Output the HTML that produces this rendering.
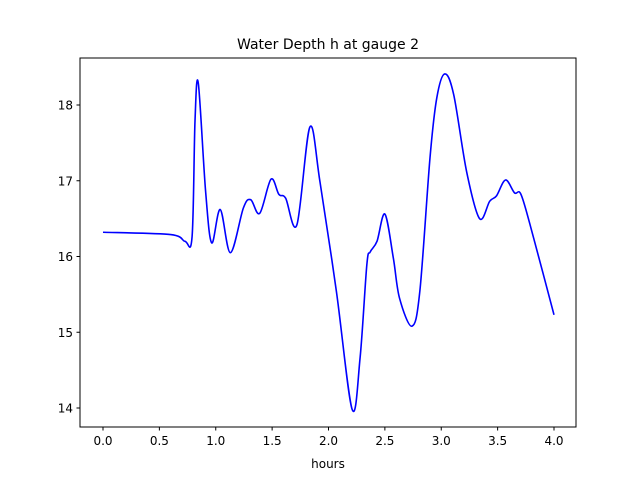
<!DOCTYPE html>
<html><head><meta charset="utf-8"><style>
body{margin:0;background:#fff}
svg{display:block;font-family:"DejaVu Sans","Liberation Sans",sans-serif}
</style></head><body>
<svg id="chart" width="640" height="480">
<rect width="640" height="480" fill="#fff"/>
<text x="328" y="49" text-anchor="middle" font-size="14">Water Depth h at gauge 2</text>
<g id="plot"></g>
<rect x="80" y="58" width="496" height="369" fill="none" stroke="#000" stroke-width="1"/>
<text x="328" y="468" text-anchor="middle" font-size="12">hours</text>
</svg>
<script>
const hours=[0,0.6,0.727,0.79,0.816,0.845,0.91,0.964,1.04,1.13,1.245,1.31,1.39,1.49,1.56,1.62,1.72,1.835,1.925,2.07,2.21,2.28,2.34,2.37,2.43,2.50,2.575,2.63,2.74,2.81,2.90,2.96,3.03,3.11,3.225,3.34,3.43,3.49,3.57,3.65,3.71,3.82,4.0];
const depth=[16.32,16.29,16.20,16.26,17.79,18.29,16.86,16.18,16.62,16.05,16.64,16.75,16.57,17.02,16.82,16.77,16.42,17.71,16.98,15.54,13.98,14.66,15.89,16.06,16.20,16.56,15.98,15.45,15.08,15.54,17.30,18.09,18.41,18.14,17.12,16.50,16.73,16.80,17.01,16.84,16.81,16.24,15.23];
const xTicks=[0,0.5,1,1.5,2,2.5,3,3.5,4];
const xTickLabels=["0.0","0.5","1.0","1.5","2.0","2.5","3.0","3.5","4.0"];
const yTicks=[14,15,16,17,18];
const yTickLabels=["14","15","16","17","18"];
const X=v=>103+v*112.75, Y=v=>105+(18-v)*75.75;
const ns="http://www.w3.org/2000/svg", g=document.getElementById('plot');
function mk(t,a){const e=document.createElementNS(ns,t);for(const k in a)e.setAttribute(k,a[k]);g.appendChild(e);return e;}
xTicks.forEach((v,i)=>{
 const t=mk('line',{x1:X(v),x2:X(v),y1:427,y2:430.5,stroke:'#000'});
 
 
 const l=mk('text',{x:X(v),y:445,'text-anchor':'middle','font-size':12});l.textContent=xTickLabels[i];
 
 
});
yTicks.forEach((v,i)=>{
 const t=mk('line',{x1:76.5,x2:80,y1:Y(v),y2:Y(v),stroke:'#000'});
 
 
 const l=mk('text',{x:73,y:Y(v)+4.5,'text-anchor':'end','font-size':12});l.textContent=yTickLabels[i];
 
 
});
const P=hours.map((h,i)=>[X(h),Y(depth[i])]);
let d='M'+P[0][0]+','+P[0][1];
for(let i=0;i<P.length-1;i++){
 const p0=P[Math.max(0,i-1)],p1=P[i],p2=P[i+1],p3=P[Math.min(P.length-1,i+2)];
 const c1=[p1[0]+(p2[0]-p0[0])/6,p1[1]+(p2[1]-p0[1])/6],c2=[p2[0]-(p3[0]-p1[0])/6,p2[1]-(p3[1]-p1[1])/6];
 d+=` C${c1[0]},${c1[1]} ${c2[0]},${c2[1]} ${p2[0]},${p2[1]}`;
}
const line=mk('path',{d:d,fill:'none',stroke:'#0000ff','stroke-width':1.6,'stroke-linejoin':'round'});


</script>
</body></html>
